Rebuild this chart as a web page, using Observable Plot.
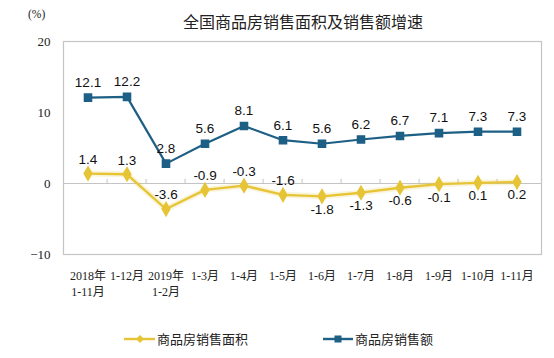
<!DOCTYPE html>
<html><head><meta charset="utf-8">
<script src="https://cdn.jsdelivr.net/npm/d3@7"></script>
<script src="https://cdn.jsdelivr.net/npm/@observablehq/plot@0.6"></script>
<style>
body{margin:0;background:#fff;}
#wrap{position:relative;width:554px;height:358px;overflow:hidden;font-family:"Noto Sans CJK SC",sans-serif;}
#wrap svg{position:absolute;left:0;top:0;}
.t{position:absolute;white-space:nowrap;color:#222;}
</style></head>
<body><div id="wrap"></div>
<script>
const categories = ["2018年\n1-11月","1-12月","2019年\n1-2月","1-3月","1-4月","1-5月","1-6月","1-7月","1-8月","1-9月","1-10月","1-11月"];
const areaGrowth = [1.4,1.3,-3.6,-0.9,-0.3,-1.6,-1.8,-1.3,-0.6,-0.1,0.1,0.2];
const salesGrowth = [12.1,12.2,2.8,5.6,8.1,6.1,5.6,6.2,6.7,7.1,7.3,7.3];
const yTicks = [20,10,0,-10];
const seriesNames = ["商品房销售面积","商品房销售额"];
const title = "全国商品房销售面积及销售额增速";

const yellow = "#e6c435", blue = "#1d5f85";
const area = categories.map((c,i)=>({c, v: areaGrowth[i], i}));
const sales = categories.map((c,i)=>({c, v: salesGrowth[i], i}));
const W = 554, H = 358, mL = 63, mR = 13, mT = 41, mB = 104;
const bw = (W - mL - mR) / categories.length;
const lblFont = "Liberation Sans, Arial, sans-serif";

const chart = Plot.plot({
  width: W, height: H,
  marginLeft: mL, marginRight: mR, marginTop: mT, marginBottom: mB,
  style: {background: "transparent", overflow: "visible"},
  x: {type: "band", domain: categories, padding: 0, label: null},
  y: {domain: [-10, 20], label: null},
  marks: [
    Plot.frame({stroke: "#c4c4c4", strokeWidth: 1.2}),
    Plot.ruleY([0], {stroke: "#c4c4c4", strokeWidth: 1.2}),
    Plot.ruleX(categories.slice(1), {y1: 0, y2: 0.6, dx: -bw/2, stroke: "#c4c4c4"}),
    Plot.axisY({ticks: yTicks, tickSize: 0, tickPadding: 13, fontSize: 13, fontFamily: "Liberation Serif, serif", fill: "#222", label: null}),
    Plot.axisX({tickSize: 0, tickPadding: 14, fontSize: 12, lineHeight: 1.35, fontFamily: "Liberation Serif, Noto Sans CJK SC, serif", fill: "#222", label: null}),
    Plot.line(area, {x: "c", y: "v", stroke: yellow, strokeWidth: 6, strokeOpacity: 0.18}),
    Plot.line(area, {x: "c", y: "v", stroke: yellow, strokeWidth: 2.3}),
    Plot.dot(area, {x: "c", y: "v", symbol: "diamond", r: 4, fill: yellow, stroke: yellow}),
    Plot.line(sales, {x: "c", y: "v", stroke: blue, strokeWidth: 2.2}),
    Plot.dot(sales, {x: "c", y: "v", symbol: "square", r: 4, fill: blue, stroke: blue}),
    Plot.text(sales, {x: "c", y: "v", text: d => d.v.toFixed(1), dy: -15, fontSize: 13.5, fontFamily: lblFont, fill: "#111"}),
    Plot.text(area, {x: "c", y: "v", text: d => d.v.toFixed(1), filter: d => d.i < 6, dy: -14, fontSize: 13.5, fontFamily: lblFont, fill: "#111"}),
    Plot.text(area, {x: "c", y: "v", text: d => d.v.toFixed(1), filter: d => d.i >= 6, dy: 13, fontSize: 13.5, fontFamily: lblFont, fill: "#111"})
  ]
});
const wrap = document.getElementById("wrap");
wrap.appendChild(chart);

function addText(txt, x, y, size, extra){
  const d = document.createElement("div");
  d.className = "t"; d.textContent = txt;
  d.style.left = x + "px"; d.style.top = y + "px"; d.style.fontSize = size + "px";
  if (extra) Object.assign(d.style, extra);
  wrap.appendChild(d);
  return d;
}
addText(title, 303, 12, 16, {transform: "translateX(-50%)", lineHeight: "18px"});
addText("(%)", 28, 7, 11.5, {fontFamily: "Liberation Serif, serif", lineHeight: "14px"});

// legend
const leg = document.createElementNS("http://www.w3.org/2000/svg","svg");
leg.setAttribute("width", W); leg.setAttribute("height", H);
leg.style.position = "absolute"; leg.style.left = "0"; leg.style.top = "0";
leg.innerHTML = `
<line x1="124" y1="339" x2="155" y2="339" stroke="${yellow}" stroke-width="2.4"/>
<path d="M140,335 L144,339 L140,343 L136,339 Z" fill="${yellow}"/>
<line x1="323" y1="339" x2="353" y2="339" stroke="${blue}" stroke-width="2.4"/>
<rect x="334.5" y="335.5" width="7" height="7" fill="${blue}"/>`;
wrap.appendChild(leg);
addText(seriesNames[0], 157, 330, 13, {lineHeight: "18px"});
addText(seriesNames[1], 355, 330, 13, {lineHeight: "18px"});
</script></body></html>
